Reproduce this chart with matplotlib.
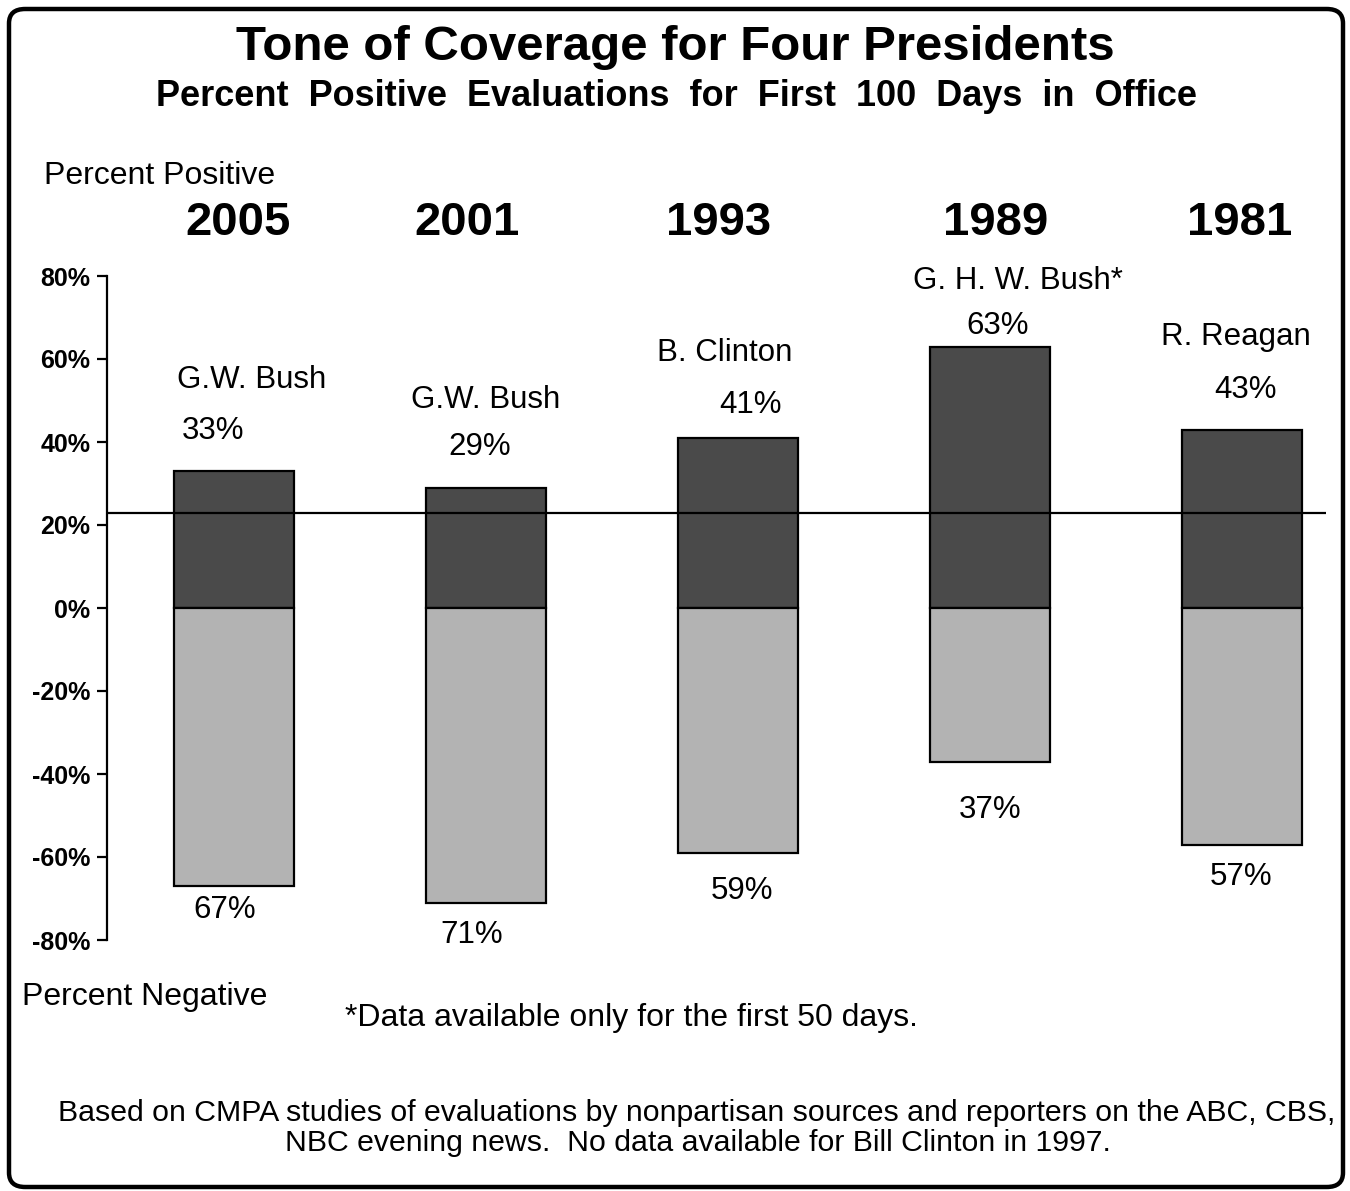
import matplotlib
matplotlib.use("Agg")
import matplotlib.pyplot as plt
from matplotlib.patches import FancyBboxPatch

plt.rcParams['font.family'] = ['Liberation Sans', 'DejaVu Sans']

years = ["2005", "2001", "1993", "1989", "1981"]
presidents = ["G.W. Bush", "G.W. Bush", "B. Clinton", "G. H. W. Bush*", "R. Reagan"]
positive = [33, 29, 41, 63, 43]
negative = [67, 71, 59, 37, 57]
reference_level = 23
yticks = [-80, -60, -40, -20, 0, 20, 40, 60, 80]

W, H = 1350, 1191
fig = plt.figure(figsize=(W / 100, H / 100), dpi=100)


def fx(px):
    return px / W


def fy(py):
    return 1 - py / H


# rounded frame around the whole graphic
frame = FancyBboxPatch((fx(9), fy(1187)), fx(1334), 1178 / H,
                       boxstyle="round,pad=0,rounding_size=0.012",
                       transform=fig.transFigure, fill=False,
                       edgecolor="black", linewidth=3.2)
fig.patches.append(frame)

ax = fig.add_axes([fx(107), fy(940), fx(1326) - fx(107), (940 - 276) / H])
x = list(range(len(years)))
ax.bar(x, positive, width=0.476, color="#4a4a4a", edgecolor="black", linewidth=1.6, zorder=2)
ax.bar(x, [-v for v in negative], width=0.476, color="#b3b3b3", edgecolor="black", linewidth=1.6, zorder=2)
ax.axhline(reference_level, color="black", linewidth=1.6, zorder=3)

ax.set_xlim(-0.504, 4.333)
ax.set_ylim(-80, 80)
ax.set_yticks(yticks)
ax.set_yticklabels([f"{t}%" for t in yticks], fontsize=18, fontweight="bold")
for lbl in ax.get_yticklabels():
    lbl.set_fontstretch("condensed")
ax.tick_params(axis="y", direction="out", length=7, width=1.6, pad=5)
ax.set_xticks([])
for side in ("top", "right", "bottom"):
    ax.spines[side].set_visible(False)
ax.spines["left"].set_linewidth(1.6)
ax.patch.set_alpha(0)

# label offsets (pixels) relative to each bar end
name_off = [(18, 91), (0, 88), (-13, 85), (28, 66), (-6, 93)]
pos_off = [(-21, 40), (-6, 41), (12, 33), (8, 21), (3, 40)]
neg_off = [(-9, -24), (-14, -32), (4, -38), (0, -48), (-1, -32)]

for i in x:
    ax.annotate(presidents[i], (i, positive[i]), xytext=name_off[i],
                textcoords="offset pixels", ha="center", va="center",
                fontsize=22.5, annotation_clip=False)
    ax.annotate(f"{positive[i]}%", (i, positive[i]), xytext=pos_off[i],
                textcoords="offset pixels", ha="center", va="center",
                fontsize=22.5, annotation_clip=False)
    ax.annotate(f"{negative[i]}%", (i, -negative[i]), xytext=neg_off[i],
                textcoords="offset pixels", ha="center", va="center",
                fontsize=22.5, annotation_clip=False)

year_x = [238, 467, 719, 996, 1240]
for yr, px in zip(years, year_x):
    fig.text(fx(px), fy(223), yr, ha="center", va="center",
             fontsize=34, fontweight="bold")

fig.text(fx(675), fy(47), "Tone of Coverage for Four Presidents",
         ha="center", va="center", fontsize=35.5, fontweight="bold")
fig.text(fx(676), fy(97), "Percent  Positive  Evaluations  for  First  100  Days  in  Office",
         ha="center", va="center", fontsize=26, fontweight="bold")

fig.text(fx(44), fy(176), "Percent Positive", ha="left", va="center", fontsize=23)
fig.text(fx(22), fy(997), "Percent Negative", ha="left", va="center", fontsize=23)
fig.text(fx(631), fy(1018), "*Data available only for the first 50 days.",
         ha="center", va="center", fontsize=23)
fig.text(fx(697), fy(1113),
         "Based on CMPA studies of evaluations by nonpartisan sources and reporters on the ABC, CBS,",
         ha="center", va="center", fontsize=21.8)
fig.text(fx(698), fy(1143),
         "NBC evening news.  No data available for Bill Clinton in 1997.",
         ha="center", va="center", fontsize=21.8)

fig.savefig("out.png", dpi=100, facecolor="white")
